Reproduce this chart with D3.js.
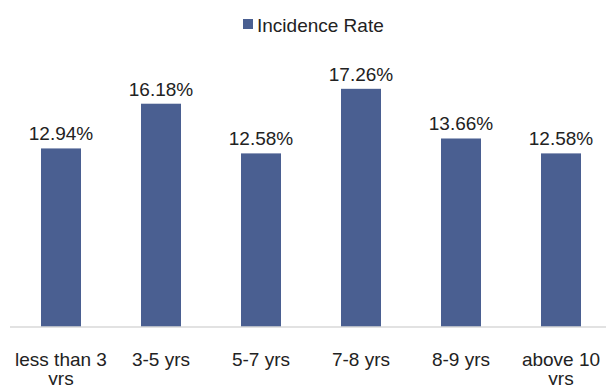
<!DOCTYPE html>
<html>
<head>
<meta charset="utf-8">
<script src="https://cdn.jsdelivr.net/npm/d3@7"></script>
<style>
  body { margin: 0; background: #fff; }
  text { font-family: "Liberation Sans", Arial, sans-serif; }
</style>
</head>
<body>
<div id="chart"></div>
<script>
let categories = ["less than 3 yrs", "3-5 yrs", "5-7 yrs", "7-8 yrs", "8-9 yrs", "above 10 yrs"];
let label_lines = [["less than 3", "yrs"], ["3-5 yrs"], ["5-7 yrs"], ["7-8 yrs"], ["8-9 yrs"], ["above 10", "yrs"]];
let rates = [12.94, 16.18, 12.58, 17.26, 13.66, 12.58];
let series_name = "Incidence Rate";

let config_size = {
    svg_width: 606,
    svg_height: 385,
    base_y: 327,
    top_y: 51,
};
let bar_color = "#4a5f91";

let data = categories.map((c, i) => ({category: c, lines: label_lines[i], rate: rates[i]}));

let svg = d3.select("#chart")
    .append("svg")
    .attr("width", config_size.svg_width).attr("height", config_size.svg_height);

let x = d3.scaleBand()
    .domain(categories)
    .range([11, 611])
    .paddingInner(0.6)
    .paddingOuter(0.3);

let y = d3.scaleLinear()
    .domain([0, 20])
    .range([config_size.base_y, config_size.top_y]);

// bars
svg.append("g").selectAll("rect")
    .data(data)
    .join("rect")
    .attr("x", d => x(d.category))
    .attr("y", d => y(d.rate))
    .attr("width", x.bandwidth())
    .attr("height", d => y(0) - y(d.rate))
    .attr("fill", bar_color);

// value labels
svg.append("g").selectAll("text")
    .data(data)
    .join("text")
    .attr("x", d => x(d.category) + x.bandwidth() / 2)
    .attr("y", d => y(d.rate) - 8)
    .attr("text-anchor", "middle")
    .attr("font-size", 19)
    .attr("fill", "#222")
    .text(d => d.rate.toFixed(2) + "%");

// category axis
let axis_g = svg.append("g")
    .attr("transform", `translate(0,${config_size.base_y})`)
    .call(d3.axisBottom(x).tickSize(0).tickFormat(""));
axis_g.select(".domain").attr("stroke", "#d9d9d9").attr("stroke-width", 1.5)
    .attr("d", "M10,0H606");

let cat_labels = svg.append("g").selectAll("text")
    .data(data)
    .join("text")
    .attr("x", d => x(d.category) + x.bandwidth() / 2)
    .attr("y", 366)
    .attr("text-anchor", "middle")
    .attr("font-size", 19)
    .attr("fill", "#222");
cat_labels.selectAll("tspan")
    .data(d => d.lines)
    .join("tspan")
    .attr("x", function() { return d3.select(this.parentNode).attr("x"); })
    .attr("dy", (d, i) => i === 0 ? 0 : 19)
    .text(d => d);

// legend
let legend = svg.append("g").attr("transform", "translate(243,19)");
legend.append("rect").attr("width", 10).attr("height", 10).attr("fill", bar_color);
legend.append("text")
    .attr("x", 14).attr("y", 12.5)
    .attr("font-size", 19)
    .attr("fill", "#222")
    .text(series_name);
</script>
</body>
</html>
